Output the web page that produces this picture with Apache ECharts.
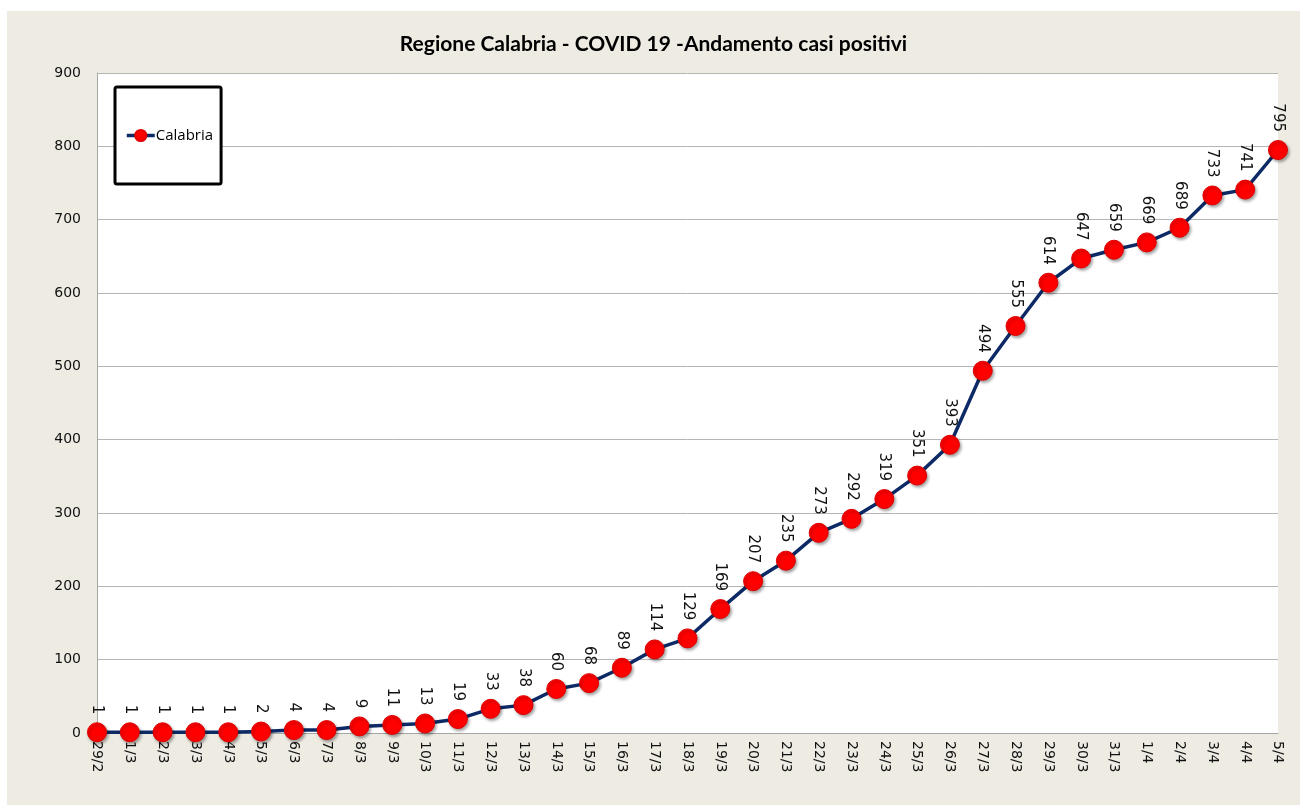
<!DOCTYPE html>
<html>
<head>
<meta charset="utf-8">
<script src="https://cdn.jsdelivr.net/npm/echarts@6/dist/echarts.min.js"></script>
<style>
html,body{margin:0;padding:0;background:#fff;width:1300px;height:805px;overflow:hidden;}
#c{position:absolute;left:7px;top:11px;width:1293px;height:794px;background:#EEEBE3;}
</style>
</head>
<body>
<div id="c"></div>
<script>
const categories = ['29/2','1/3','2/3','3/3','4/3','5/3','6/3','7/3','8/3','9/3','10/3','11/3','12/3','13/3','14/3','15/3','16/3','17/3','18/3','19/3','20/3','21/3','22/3','23/3','24/3','25/3','26/3','27/3','28/3','29/3','30/3','31/3','1/4','2/4','3/4','4/4','5/4'];
const calabria = [1,1,1,1,1,2,4,4,9,11,13,19,33,38,60,68,89,114,129,169,207,235,273,292,319,351,393,494,555,614,647,659,669,689,733,741,795];
const yTicks = {min:0, max:900, interval:100};

const chart = echarts.init(document.getElementById('c'));
chart.setOption({
  backgroundColor:'#EEEBE3',
  animation:false,
  title:{
    text:'Regione Calabria - COVID 19 -Andamento casi positivi',
    left:'center', top:18,
    textStyle:{fontFamily:'Lato', fontWeight:'bold', fontSize:21, color:'#000'}
  },
  legend:{
    left:108, top:76,
    backgroundColor:'#fff',
    borderColor:'#000', borderWidth:3, borderRadius:2,
    padding:[41,8,41,10],
    itemWidth:28, itemHeight:14, itemGap:0,
    lineStyle:{color:'#0E2A66', width:3.5},
    textStyle:{fontFamily:'Open Sans', fontSize:15, color:'#000', padding:[0,0,0,-4]},
    data:['Calabria']
  },
  grid:{left:90, top:62, right:22, bottom:72, show:true, backgroundColor:'#fff', borderWidth:0},
  xAxis:{
    type:'category', data:categories, boundaryGap:false,
    axisLine:{lineStyle:{color:'#A6A6A6', width:1}},
    axisTick:{show:false},
    axisLabel:{rotate:-90, margin:8, fontFamily:'DejaVu Sans', fontSize:14, color:'#111', interval:0}
  },
  yAxis:{
    type:'value', min:yTicks.min, max:yTicks.max, interval:yTicks.interval,
    axisLine:{show:true, lineStyle:{color:'#A6A6A6', width:1}},
    axisTick:{show:false},
    axisLabel:{margin:16, fontFamily:'DejaVu Sans', fontSize:14, color:'#111'},
    splitLine:{lineStyle:{color:'#B5B5B5', width:1}}
  },
  series:[{
    name:'Calabria', type:'line', data:calabria,
    symbol:'circle', symbolSize:19,
    lineStyle:{color:'#0E2A66', width:3.5},
    itemStyle:{color:'#FF0000', borderColor:'#E00000', borderWidth:1, shadowBlur:3, shadowOffsetX:1.5, shadowOffsetY:2, shadowColor:'rgba(0,0,0,0.35)'},
    label:{show:true, position:'top', distance:8, rotate:-90, align:'right', verticalAlign:'middle',
      fontFamily:'DejaVu Sans', fontSize:15, color:'#111'}
  }]
});
</script>
</body>
</html>
